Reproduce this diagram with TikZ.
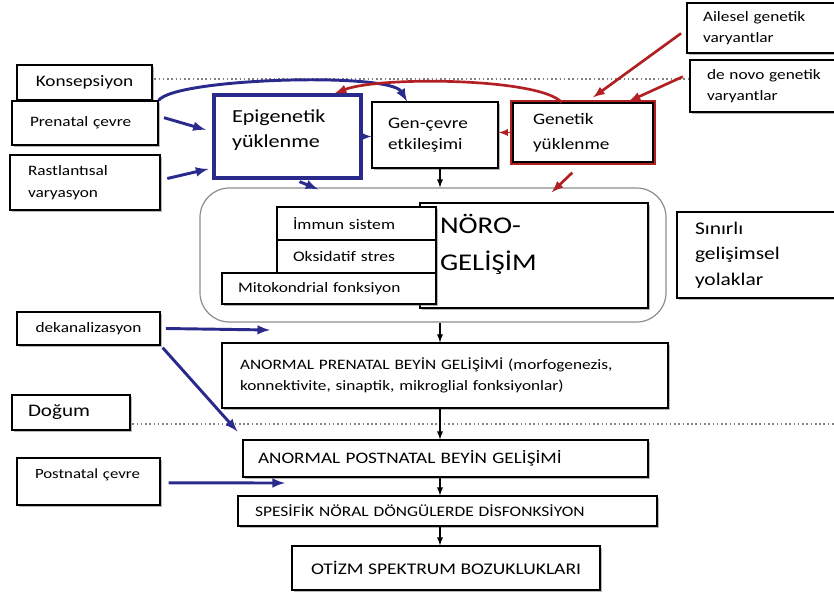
\documentclass[tikz,border=0pt]{standalone}
\usepackage{fontspec}
\setmainfont{Carlito}[FakeStretch=1.2]
\usetikzlibrary{shadows}
\definecolor{epiblue}{RGB}{42,42,140}
\definecolor{genred}{RGB}{178,32,36}
\tikzset{
  box/.style={draw=black, line width=0.9pt, fill=white,
    drop shadow={shadow xshift=1.3pt, shadow yshift=-1.3pt, fill=black!55}},
  lbox/.style={box, align=left},
  epibox/.style={lbox, draw=epiblue, line width=2.4pt},
  genbox/.style={draw=black, line width=0.9pt, fill=white, align=left,
    preaction={draw=genred, line width=4pt}},
  pathway/.style={draw=black!45, line width=0.9pt, rounded corners=22pt},
  timeline/.style={draw=black!50, dotted, line width=1.2pt},
  bluearrow/.style={draw=epiblue, line width=2.2pt, -latex},
  redarrow/.style={draw=genred, line width=2pt, -latex},
  downarrow/.style={draw=black, line width=1.1pt, -latex},
}
\begin{document}
\begin{tikzpicture}[x=0.75pt, y=-0.75pt, font=\fontsize{10.8}{16}\selectfont]
	\useasboundingbox (0,0) rectangle (834,593);
	% conception and birth
	\draw[timeline] (150,79) -- (834,79);
	\draw[timeline] (128,424) -- (834,424);
	\coordinate (spine) at (440,0);
	% left inputs
	\node[box, minimum width=101.25pt, minimum height=26.25pt, font=\fontsize{12}{14}\selectfont] (konsep) at (84.5,82.5) {Konsepsiyon};
	\node[lbox, inner xsep=13.5pt, text width=82.5pt, minimum height=33pt] (prenatal) at (85,123) {Prenatal çevre};
	\node[lbox, inner xsep=13.5pt, text width=85.5pt, minimum height=41.25pt] (rast) at (85,182.5) {Rastlantısal\\varyasyon};
	% loading boxes
	\node[epibox, inner xsep=13.5pt, text width=83.25pt, minimum height=62.25pt, text depth=30pt, font=\fontsize{13.8}{18.75}\selectfont] (epi) at (287.5,136.5) {Epigenetik\\yüklenme};
	\node[lbox, inner xsep=12pt, text width=70.5pt, minimum height=49.5pt, font=\fontsize{12}{15.5}\selectfont] (gencevre) at (435,135) {Gen-çevre\\etkileşimi};
	\node[genbox, inner xsep=15pt, text width=75pt, minimum height=44.25pt, font=\fontsize{12}{18.75}\selectfont] (genetik) at (583,132.5) {Genetik\\yüklenme};
	\node[lbox, inner xsep=12pt, text width=90.75pt, minimum height=37.5pt] (ailesel) at (763.5,28) {Ailesel genetik\\varyantlar};
	\node[lbox, inner xsep=12.75pt, text width=87pt, minimum height=39pt] (denovo) at (765,86) {de novo genetik\\varyantlar};
	% neurodevelopment
	\node[pathway, minimum width=349.5pt, minimum height=100.5pt] (neuro) at (433,255) {};
	\node[lbox, inner xsep=15pt, text width=141pt, minimum height=78.75pt, text depth=47pt, font=\fontsize{18}{27.75}\selectfont] (noro) at (534,255.5) {NÖRO-\\GELİŞİM};
	\node[lbox, inner xsep=12pt, text width=95.25pt, minimum height=24.75pt, font=\fontsize{11}{13}\selectfont] (immun) at (356.5,223.5) {İmmun sistem};
	\node[lbox, inner xsep=12pt, text width=95.25pt, minimum height=24.75pt, font=\fontsize{11}{13}\selectfont] (oksid) at (356.5,256.5) {Oksidatif stres};
	\node[lbox, inner xsep=12pt, text width=136.5pt, minimum height=23.25pt] (mito) at (329,288.5) {Mitokondrial fonksiyon};
	\node[lbox, inner xsep=13.5pt, text width=95.25pt, minimum height=64.5pt, font=\fontsize{13.4}{19}\selectfont] (sinirli) at (758.5,255) {Sınırlı\\gelişimsel\\yolaklar};
	% outcomes
	\node[box, minimum width=107.25pt, minimum height=24.75pt] (dekan) at (88.5,328.5) {dekanalizasyon};
	\node[lbox, inner xsep=13.5pt, text width=307.5pt, minimum height=48.75pt, font=\fontsize{10.8}{15.75}\selectfont] (prenbeyin) at (445,375.5) {ANORMAL PRENATAL BEYİN GELİŞİMİ (morfogenezis,\\konnektivite, sinaptik, mikroglial fonksiyonlar)};
	\node[lbox, inner xsep=12pt, text width=64.5pt, minimum height=26.25pt, font=\fontsize{13.2}{15}\selectfont] (dogum) at (71,412.5) {Doğum};
	\node[lbox, inner xsep=11.25pt, text width=281.25pt, minimum height=27.75pt, font=\fontsize{12}{14}\selectfont] (postbeyin) at (445.5,458.5) {ANORMAL POSTNATAL BEYİN GELİŞİMİ};
	\node[lbox, inner xsep=13.5pt, text width=80.25pt, minimum height=35.25pt, text depth=12pt, font=\fontsize{10.5}{13}\selectfont] (postcevre) at (88.5,481.5) {Postnatal çevre};
	\node[lbox, inner xsep=12.75pt, text width=288.75pt, minimum height=22.5pt, font=\fontsize{10.9}{13}\selectfont] (spesifik) at (447.5,511) {SPESİFİK NÖRAL DÖNGÜLERDE DİSFONKSİYON};
	\node[box, minimum width=231pt, minimum height=33pt, font=\fontsize{12.2}{14}\selectfont] (otizm) at (446,568) {OTİZM SPEKTRUM BOZUKLUKLARI};
	\coordinate (dekanend) at (270,330);
	\coordinate (postend) at (285,483);
	% environmental (blue) arrows
	\draw[bluearrow] (prenatal.north east) .. controls (175,78) and (390,72) .. ([xshift=-21pt]gencevre.north);
	\draw[bluearrow] ([xshift=4pt,yshift=4pt]prenatal.east) -- ([xshift=-5pt,yshift=5pt]epi.west);
	\draw[bluearrow] ([xshift=5pt,yshift=3pt]rast.east) -- ([xshift=-3pt,yshift=8pt]epi.south west);
	\draw[bluearrow, line width=1.4pt] (epi.east) -- (epi.east -| gencevre.west);
	\draw[bluearrow] ([xshift=9pt,yshift=-1.5pt]epi.south) -- ([xshift=-86pt,yshift=-1.5pt]neuro.north);
	\draw[bluearrow] ([xshift=4pt]dekan.east) -- (dekanend);
	\draw[bluearrow] ([xshift=1.5pt,yshift=-1.5pt]dekan.south east) -- ([xshift=-3.75pt,yshift=6pt]postbeyin.north west);
	\draw[bluearrow] ([xshift=6pt,yshift=-1pt]postcevre.east) -- (postend);
	% genetic (red) arrows
	\draw[redarrow] ([xshift=-16pt]genetik.north) .. controls (540,78) and (380,76) .. ([xshift=-21pt]epi.north east);
	\draw[redarrow] ([xshift=-4pt,yshift=-4pt]ailesel.west) -- ([xshift=7.5pt,yshift=3.75pt]genetik.north);
	\draw[redarrow] ([xshift=-5pt,yshift=7pt]denovo.west) -- ([xshift=-18.75pt,yshift=0.75pt]genetik.north east);
	\draw[redarrow, line width=1.4pt] (genetik.west) -- (genetik.west -| gencevre.east);
	\draw[redarrow] ([xshift=-8pt,yshift=-7.5pt]genetik.south) -- ([xshift=89pt,yshift=-3.75pt]neuro.north);
	% main cascade
	\draw[downarrow] (gencevre.south -| spine) -- (neuro.north -| spine);
	\draw[downarrow] (neuro.south -| spine) -- (prenbeyin.north -| spine);
	\draw[downarrow] (prenbeyin.south -| spine) -- (postbeyin.north -| spine);
	\draw[downarrow] (postbeyin.south -| spine) -- (spesifik.north -| spine);
	\draw[downarrow] (spesifik.south -| spine) -- (otizm.north -| spine);
\end{tikzpicture}
\end{document}
